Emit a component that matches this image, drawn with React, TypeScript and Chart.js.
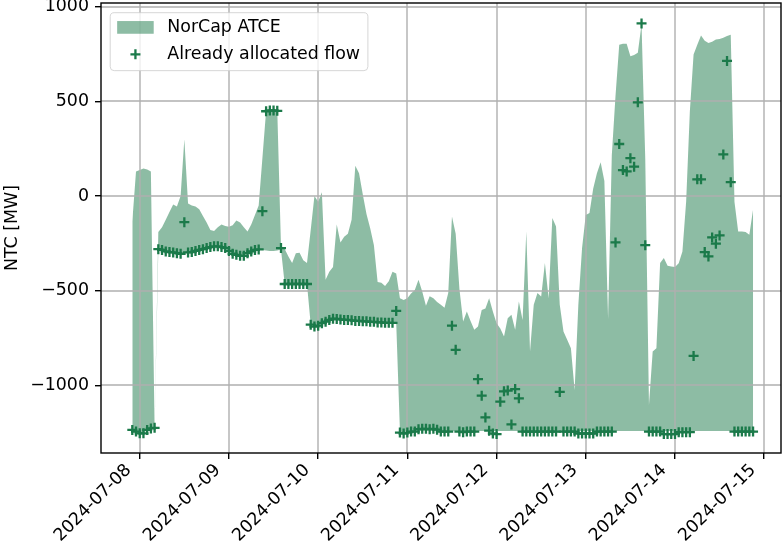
import React, { useEffect, useRef } from 'react';
import { Chart, registerables } from 'chart.js';

Chart.register(...registerables);

// Hourly series, first point 2024-07-07 22:00 (hour index 0)
const dayTickHours = [2, 26, 50, 74, 98, 122, 146, 170];
const dayTickLabels = [
  '2024-07-08', '2024-07-09', '2024-07-10', '2024-07-11',
  '2024-07-12', '2024-07-13', '2024-07-14', '2024-07-15',
];
const yTickValues = [-1000, -500, 0, 500, 1000];
const xRangeHours = [-8.42, 174.52];
const yRangeMW = [-1358, 1020];

// Upper edge of the NorCap ATCE band (MW)
const atceMax = [
  -134, 130, 138, 145, 140, 130, -1225, -190, -165, -125,
  -85, -45, -55, 0, 300, -40, -50, -55, -70, -105,
  -140, -180, -185, -165, -150, -158, -162, -155, -130, -140,
  -165, -187, -150, -100, -50, 200, 450, 455, 458, 455,
  -265, -280, -320, -354, -302, -300, -340, -354, -180, 0,
  -30, 20, -443, -400, -375, -150, -245, -215, -200, -125,
  160, 120, 10, -95, -170, -260, -455, -458, -475, -450,
  -400, -410, -540, -549, -540, -515, -496, -443, -505, -580,
  -530, -540, -560, -575, -590, -513, -108, -200, -490, -663,
  -610, -660, -707, -690, -602, -595, -540, -610, -672, -700,
  -743, -646, -628, -707, -558, -655, -187, -822, -575, -513,
  -531, -354, -540, -116, -161, -575, -716, -760, -804, -1025,
  -575, -275, -100, -90, 40, 120, 178, 80, -650, 215,
  530, 800, 805, 805, 739, 745, 757, 906, 200, -1104,
  -822, -804, -354, -328, -368, -372, -375, -355, -293, -30,
  448, 748, 800, 848, 820, 809, 815, 827, 830, 836,
  845, 852, -30, -187, -187, -190, -205, -72,
];

// Lower edge of the NorCap ATCE band (MW)
const atceMin = [
  -1236, -1245, -1254, -1254, -1236, -1228, -1225, -281, -285, -293,
  -296, -298, -302, -305, -300, -298, -296, -290, -285, -281,
  -275, -270, -266, -266, -270, -275, -290, -305, -311, -316,
  -316, -302, -293, -285, -282, -285, -288, -290, -290, -288,
  -282, -465, -465, -465, -465, -465, -465, -465, -680, -690,
  -685, -672, -664, -655, -648, -650, -652, -655, -655, -657,
  -660, -660, -662, -662, -665, -665, -668, -668, -670, -670,
  -670, -670, -1242, -1242, -1242, -1242, -1242, -1242, -1242, -1242,
  -1242, -1242, -1242, -1242, -1242, -1242, -1242, -1242, -1242, -1242,
  -1242, -1242, -1242, -1242, -1242, -1242, -1242, -1242, -1242, -1242,
  -1242, -1242, -1242, -1242, -1242, -1242, -1242, -1242, -1242, -1242,
  -1242, -1242, -1242, -1242, -1242, -1242, -1242, -1242, -1242, -1242,
  -1242, -1242, -1242, -1242, -1242, -1242, -1242, -1242, -1242, -1242,
  -1242, -1242, -1242, -1242, -1242, -1242, -1242, -1242, -1242, -1242,
  -1242, -1242, -1242, -1242, -1242, -1242, -1242, -1242, -1242, -1242,
  -1242, -1242, -1242, -1242, -1242, -1242, -1242, -1242, -1242, -1242,
  -1242, -1242, -1242, -1242, -1242, -1242, -1242, -1242,
];

// Already allocated flow (MW)
const allocatedFlow = [
  -1236, -1245, -1254, -1254, -1236, -1228, -1225, -281, -285, -293,
  -296, -298, -302, -305, -138, -298, -296, -290, -285, -281,
  -275, -270, -266, -266, -270, -275, -290, -305, -311, -316,
  -316, -302, -293, -285, -282, -80, 448, 452, 452, 450,
  -275, -465, -465, -465, -465, -465, -465, -465, -680, -690,
  -685, -672, -664, -655, -648, -650, -652, -655, -655, -657,
  -660, -660, -662, -662, -665, -665, -668, -668, -670, -670,
  -670, -607, -1250, -1255, -1250, -1245, -1245, -1232, -1230, -1230,
  -1232, -1230, -1235, -1245, -1245, -1245, -685, -813, -1245, -1248,
  -1245, -1245, -1245, -968, -1055, -1170, -1240, -1255, -1258, -1087,
  -1032, -1028, -1207, -1020, -1069, -1245, -1245, -1245, -1245, -1245,
  -1245, -1245, -1245, -1245, -1245, -1035, -1245, -1245, -1245, -1245,
  -1255, -1255, -1255, -1255, -1255, -1245, -1245, -1245, -1245, -1245,
  -245, 275, 137, 130, 200, 155, 495, 912, -260, -1245,
  -1245, -1245, -1245, -1258, -1258, -1258, -1258, -1248, -1248, -1248,
  -1248, -845, 88, 88, -296, -319, -219, -252, -208, 220,
  714, 73, -1245, -1245, -1245, -1245, -1245, -1245,
];

const MARK = '#1b7a4a';
const FILL = 'rgba(27,122,74,0.5)';
const GRID = '#b0b0b0';
const FONT = 'DejaVu Sans';
const FS = 17.4;

const fmtY = (v: number) => (v < 0 ? '\u2212' + Math.abs(v) : String(v));

// grid lines drawn over the band (matplotlib draws grid above the fill, below the markers)
const gridPlugin = {
  id: 'mplGrid',
  beforeDatasetsDraw(chart: any) {
    const { ctx, chartArea: a, scales } = chart;
    ctx.save();
    ctx.beginPath();
    ctx.rect(a.left, a.top, a.right - a.left, a.bottom - a.top);
    ctx.clip();
    ctx.strokeStyle = GRID;
    ctx.lineWidth = 1.4;
    ctx.beginPath();
    for (const t of scales.x.ticks) {
      const px = Math.round(scales.x.getPixelForValue(t.value));
      ctx.moveTo(px, a.top);
      ctx.lineTo(px, a.bottom);
    }
    for (const t of scales.y.ticks) {
      const py = Math.round(scales.y.getPixelForValue(t.value));
      ctx.moveTo(a.left, py);
      ctx.lineTo(a.right, py);
    }
    ctx.stroke();
    ctx.restore();
  },
};

const framePlugin = {
  id: 'mplFrame',
  afterDraw(chart: any) {
    const { ctx, chartArea: a } = chart;
    ctx.save();
    ctx.strokeStyle = '#000';
    ctx.lineWidth = 1.4;
    ctx.strokeRect(a.left, a.top, a.right - a.left, a.bottom - a.top);
    ctx.restore();
  },
};

const legendPlugin = {
  id: 'mplLegend',
  afterDraw(chart: any) {
    const { ctx, chartArea: a } = chart;
    const ds = chart.data.datasets;
    const bandDs = ds[1];
    const flowDs = ds[2];
    ctx.save();
    ctx.font = `${FS}px "${FONT}"`;
    const left = a.left + 0.5 * FS + 0.5;
    const top = a.top + 0.5 * FS + 1;
    const textX = left + 3.28 * FS;
    const w1 = ctx.measureText(bandDs.label).width;
    const w2 = ctx.measureText(flowDs.label).width;
    const width = textX - left + Math.max(w1, w2) + 0.45 * FS;
    const height = 3.33 * FS;
    const row1 = top + 0.84 * FS;
    const row2 = row1 + 1.55 * FS;

    ctx.beginPath();
    ctx.roundRect(left, top, width, height, 4);
    ctx.fillStyle = 'rgba(255,255,255,0.8)';
    ctx.fill();
    ctx.strokeStyle = 'rgba(204,204,204,0.8)';
    ctx.lineWidth = 1;
    ctx.stroke();

    const hx0 = left + 0.4 * FS;
    const hLen = 2.1 * FS;
    ctx.fillStyle = bandDs.backgroundColor;
    ctx.fillRect(hx0, row1 - 0.36 * FS, hLen, 0.73 * FS);

    const cx = hx0 + hLen / 2;
    const r = flowDs.pointRadius;
    ctx.strokeStyle = flowDs.pointBorderColor;
    ctx.lineWidth = flowDs.pointBorderWidth;
    ctx.beginPath();
    ctx.moveTo(cx - r, row2);
    ctx.lineTo(cx + r, row2);
    ctx.moveTo(cx, row2 - r);
    ctx.lineTo(cx, row2 + r);
    ctx.stroke();

    ctx.fillStyle = '#000';
    ctx.textAlign = 'left';
    ctx.textBaseline = 'middle';
    ctx.fillText(bandDs.label, textX, row1);
    ctx.fillText(flowDs.label, textX, row2);
    ctx.restore();
  },
};

export default function App() {
  const ref = useRef<HTMLCanvasElement>(null);

  useEffect(() => {
    const canvas = ref.current;
    if (!canvas) return;
    const hours = atceMax.map((_, i) => i);
    const pts = (arr: number[]) => arr.map((v, i) => ({ x: hours[i], y: v }));

    const chart = new Chart(canvas, {
      type: 'line',
      data: {
        datasets: [
          {
            label: 'lower',
            data: pts(atceMin),
            borderWidth: 0,
            borderColor: 'rgba(0,0,0,0)',
            backgroundColor: 'rgba(0,0,0,0)',
            pointRadius: 0,
            fill: false,
            order: 2,
          },
          {
            label: 'NorCap ATCE',
            data: pts(atceMax),
            borderWidth: 0,
            borderColor: 'rgba(0,0,0,0)',
            backgroundColor: FILL,
            pointRadius: 0,
            fill: '-1',
            order: 1,
          },
          {
            label: 'Already allocated flow',
            data: pts(allocatedFlow),
            showLine: false,
            fill: false,
            pointStyle: 'cross',
            pointRadius: 5,
            pointBorderWidth: 2.3,
            pointBorderColor: MARK,
            borderColor: MARK,
            backgroundColor: MARK,
            order: 0,
          },
        ] as any,
      },
      options: {
        animation: false,
        responsive: false,
        maintainAspectRatio: false,
        devicePixelRatio: 1,
        events: [],
        layout: { autoPadding: false, padding: { left: 0, right: 1, top: 3, bottom: 0 } },
        plugins: {
          legend: { display: false },
          tooltip: { enabled: false },
          filler: { propagate: false, drawTime: 'beforeDatasetsDraw' } as any,
        },
        scales: {
          x: {
            type: 'linear',
            min: xRangeHours[0],
            max: xRangeHours[1],
            afterBuildTicks: (s: any) => {
              s.ticks = dayTickHours.map((v) => ({ value: v }));
            },
            afterFit: (s: any) => {
              s.height = 98;
              s.paddingLeft = 0;
              s.paddingRight = 0;
            },
            border: { display: false },
            grid: {
              drawOnChartArea: false,
              color: GRID,
              lineWidth: 1.4,
              tickColor: '#000',
              tickLength: 6,
              tickWidth: 1.4,
            },
            ticks: {
              autoSkip: false,
              minRotation: 45,
              maxRotation: 45,
              padding: 1,
              labelOffset: -11,
              color: '#000',
              font: { family: FONT, size: FS },
              callback: (v: any) => {
                const i = dayTickHours.indexOf(Number(v));
                return i >= 0 ? dayTickLabels[i] : '';
              },
            },
          },
          y: {
            type: 'linear',
            min: yRangeMW[0],
            max: yRangeMW[1],
            afterBuildTicks: (s: any) => {
              s.ticks = yTickValues.map((v) => ({ value: v }));
            },
            afterFit: (s: any) => {
              s.width = 101;
              s.paddingTop = 0;
              s.paddingBottom = 0;
            },
            border: { display: false },
            grid: {
              drawOnChartArea: false,
              color: GRID,
              lineWidth: 1.4,
              tickColor: '#000',
              tickLength: 6,
              tickWidth: 1.4,
            },
            ticks: {
              padding: 6,
              color: '#000',
              font: { family: FONT, size: FS },
              callback: (v: any) => fmtY(Number(v)),
            },
            title: {
              display: true,
              text: 'NTC [MW]',
              color: '#000',
              font: { family: FONT, size: FS },
              padding: { top: 2.5, bottom: 0 },
            },
          },
        },
      } as any,
      plugins: [gridPlugin, framePlugin, legendPlugin],
    });

    return () => chart.destroy();
  }, []);

  return (
    <div style={{ position: 'fixed', left: 0, top: 0, width: 782, height: 551, background: '#fff' }}>
      <canvas ref={ref} width={782} height={551} style={{ display: 'block', width: 782, height: 551 }} />
    </div>
  );
}
